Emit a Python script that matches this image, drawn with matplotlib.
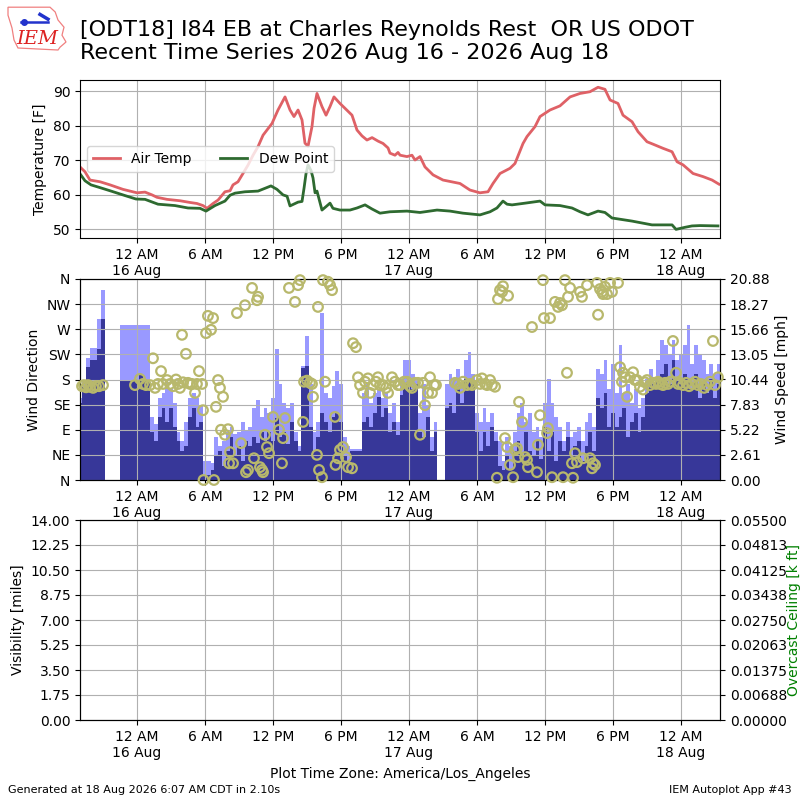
import numpy as np
import pandas as pd
import matplotlib
matplotlib.use('Agg')
import matplotlib.pyplot as plt
import matplotlib.dates as mdates
from matplotlib.ticker import FuncFormatter, FixedLocator
from matplotlib.patches import Polygon
from matplotlib.lines import Line2D

# hours relative to 2026-08-16 00:00 (America/Los_Angeles)
BASE = pd.Timestamp('2026-08-16 00:00')
T_START, T_END = -5.03, 51.44

# ---------------------------------------------------------------- temperature
temp_hours = [-5.03, -4.59, -4.15, -3.26, -2.38, -1.24, 0.0, 0.71, 1.32, 1.76,
              2.65, 3.79, 4.68, 5.29, 5.82, 6.18, 6.71, 7.15, 7.76, 8.21,
              8.47, 8.91, 9.35, 9.79, 10.24, 10.68, 11.12, 11.91, 12.44, 13.06,
              13.50, 13.85, 14.21, 14.56, 14.82, 15.09, 15.44, 15.62, 15.88, 16.32,
              16.68, 17.03, 17.38, 17.91, 18.35, 18.97, 19.41, 19.85, 20.29, 20.74,
              21.26, 21.71, 22.15, 22.32, 22.76, 23.03, 23.21, 23.82, 24.26, 24.53,
              24.97, 25.41, 26.12, 27.00, 28.50, 29.38, 30.26, 30.97, 31.41, 32.03,
              32.91, 33.35, 34.06, 34.41, 35.12, 35.56, 36.44, 37.32, 38.21, 39.09,
              39.97, 40.68, 41.29, 41.74, 42.44, 42.88, 43.68, 44.21, 45.00, 45.53,
              46.41, 47.21, 47.65, 48.18, 49.06, 49.94, 50.74, 51.35]
temp_vals = [68.0, 66.6, 64.2, 63.7, 62.8, 61.5, 60.5, 60.7, 59.9, 59.2,
             58.6, 58.2, 57.7, 57.4, 56.8, 56.0, 57.4, 58.4, 60.8, 61.1,
             62.8, 63.7, 66.1, 68.5, 71.4, 73.9, 77.2, 80.6, 84.5, 88.3,
             84.5, 82.6, 84.5, 81.6, 74.9, 74.0, 79.7, 85.0, 89.3, 85.5,
             83.0, 85.5, 88.3, 86.4, 85.0, 83.0, 78.7, 77.0, 75.8, 76.5,
             75.5, 74.8, 73.5, 72.0, 71.4, 72.2, 71.4, 71.0, 71.4, 70.0,
             71.0, 68.0, 65.7, 64.2, 63.2, 61.3, 60.5, 60.8, 63.2, 66.1,
             67.6, 69.0, 74.8, 76.8, 79.7, 82.6, 84.5, 85.7, 88.3, 89.3,
             89.8, 91.1, 90.5, 87.4, 86.4, 83.0, 81.1, 78.2, 75.3, 74.6,
             73.4, 72.4, 69.5, 68.6, 66.1, 65.2, 64.2, 63.0]

dew_hours = [-5.03, -4.59, -4.06, -3.26, -2.29, -1.06, -0.09, 0.71, 1.85, 3.35,
             4.50, 5.56, 6.09, 6.88, 7.76, 8.21, 8.65, 9.53, 10.68, 11.29,
             11.82, 12.35, 12.88, 13.24, 13.50, 14.21, 14.56, 14.74, 14.91, 15.09,
             15.35, 15.53, 15.71, 15.88, 16.32, 16.68, 17.03, 17.29, 17.91, 18.79,
             19.41, 20.12, 20.74, 21.44, 22.32, 23.82, 24.97, 26.47, 27.62, 28.76,
             30.26, 31.15, 31.76, 32.29, 32.65, 33.09, 34.24, 35.56, 36.00, 37.32,
             38.38, 39.09, 39.79, 40.68, 41.29, 41.91, 43.68, 45.44, 47.21, 47.56,
             48.35, 48.97, 49.68, 51.26]
dew_vals = [66.0, 64.0, 62.8, 62.0, 61.0, 59.7, 58.7, 58.6, 57.2, 56.8,
            56.1, 56.0, 55.2, 56.8, 58.1, 59.8, 60.4, 60.8, 61.0, 61.8,
            62.5, 61.5, 59.9, 59.5, 56.7, 57.8, 58.0, 61.9, 66.0, 68.6,
            67.0, 64.8, 60.5, 61.0, 55.5, 56.5, 57.5, 56.0, 55.5, 55.5,
            56.1, 57.0, 55.8, 54.6, 55.0, 55.2, 54.8, 55.5, 55.2, 54.6,
            54.1, 55.0, 56.1, 58.1, 57.2, 57.0, 57.5, 58.1, 57.0, 56.8,
            56.1, 55.0, 54.1, 55.2, 54.8, 53.2, 52.3, 51.2, 51.2, 49.9,
            50.5, 50.9, 51.0, 50.9]

# ---------------------------------------------------------------- wind (20 minute obs from -5 h)
WIND_FIRST_HOUR = -5.0
nan = np.nan
wind_speed = [8.0, 9.7, 11.7, 12.5, 12.5, 13.6, 16.7, nan, nan, nan, nan, 10.4,
              10.4, 10.4, 10.4, 10.4, 11.0, 10.4, 10.4, 5.0, 4.0, 6.5, 7.5, 6.0,
              7.5, 5.5, 4.0, 3.0, 3.5, 6.5, 7.5, 5.5, 6.0, 0.5, 0.5, 1.0,
              2.5, 3.0, 1.5, 3.0, 4.5, 2.5, 3.5, 2.0, 4.0, 3.5, 4.5, 3.8,
              5.0, 4.0, 5.0, 4.0, 6.4, 4.5, 5.0, 3.7, 6.0, 4.0, 3.0, 11.6,
              11.8, 5.5, 3.0, 4.5, 7.0, 6.0, 5.0, 6.5, 7.0, 6.0, 2.5, 2.0,
              3.0, 3.0, 3.0, 6.0, 6.5, 5.5, 7.0, 8.6, 6.5, 7.5, 5.0, 6.0,
              4.7, 8.8, 10.0, 10.0, 9.5, 10.0, 5.0, 4.5, 6.5, 3.0, 5.0, nan,
              nan, 7.5, 8.0, 7.0, 9.5, 8.0, 10.5, 10.5, 10.0, 5.0, 3.0, 5.0,
              3.5, 5.5, 4.0, 1.5, 1.0, 2.5, 1.0, 3.0, 4.0, 2.5, 5.0, 3.0,
              2.5, 4.0, 2.2, 5.5, 3.0, 5.0, 2.0, 4.0, 3.0, 4.5, 2.5, 3.5,
              4.0, 2.0, 3.5, 5.0, 3.0, 8.5, 7.5, 9.0, 5.5, 7.0, 5.5, 6.5,
              7.5, 4.5, 6.0, 7.0, 5.0, 6.5, 9.0, 10.0, 9.5, 10.5, 11.0, 12.0,
              10.0, 12.5, 10.5, 10.0, 11.0, 10.5, 9.5, 11.0, 8.5, 10.0, 9.0, 10.5,
              8.5, 10.0, 9.0]
wind_gust = [8.5, 10.4, 12.7, 13.7, 13.7, 16.7, 19.7, nan, nan, nan, nan, 16.1,
             16.1, 16.1, 16.1, 16.1, 16.1, 16.1, 16.1, 6.5, 5.8, 8.5, 9.0, 10.2,
             9.5, 8.0, 5.0, 4.0, 6.0, 8.5, 9.0, 8.5, 7.8, 2.0, 2.0, 1.8,
             4.5, 3.5, 4.0, 5.0, 5.5, 4.8, 5.0, 6.0, 5.2, 5.5, 7.5, 8.3,
             6.5, 7.5, 7.0, 8.5, 13.6, 10.0, 8.0, 7.5, 8.0, 5.0, 3.5, 11.8,
             15.0, 10.0, 5.0, 6.0, 17.3, 9.0, 8.5, 9.8, 11.3, 10.0, 4.5, 3.5,
             3.2, 3.2, 3.2, 9.0, 10.0, 8.0, 9.0, 9.5, 8.5, 9.0, 7.0, 8.0,
             6.0, 10.5, 12.5, 12.5, 11.0, 10.5, 7.0, 10.0, 7.8, 4.5, 6.0, nan,
             nan, 10.0, 11.0, 10.5, 11.5, 10.0, 12.5, 13.3, 11.0, 7.0, 6.0, 7.5,
             6.0, 7.0, 5.0, 4.0, 2.0, 4.5, 3.5, 5.0, 7.0, 8.0, 6.0, 7.0,
             5.0, 5.5, 4.5, 8.0, 10.5, 8.0, 6.5, 5.5, 4.0, 6.0, 4.5, 5.0,
             5.5, 4.0, 6.0, 7.0, 5.5, 11.5, 11.0, 12.5, 9.5, 12.0, 9.0, 14.0,
             9.0, 10.0, 8.0, 9.5, 7.5, 8.5, 10.5, 11.5, 10.0, 12.5, 14.5, 14.0,
             13.0, 14.5, 12.5, 13.0, 14.0, 16.1, 12.0, 14.0, 13.0, 12.5, 11.0, 12.0,
             11.0, 12.0, 11.0]

drct_hours = [-4.85, -4.68, -4.50, -4.32, -4.15, -3.88, -3.62, -3.35, -3.00,
              -0.18, 0.26, 0.53, 0.79, 1.15, 1.41, 1.59, 1.85, 2.12, 2.29, 2.65,
              2.91, 3.18, 3.44, 3.62, 3.79, 3.97, 4.06, 4.32, 4.50, 4.68, 4.85,
              5.12, 5.29, 5.47, 5.74, 5.82, 5.87, 6.09, 6.26, 6.53, 6.71, 6.79,
              6.97, 7.15, 7.32, 7.41, 7.59, 7.76, 8.03, 8.12, 8.21, 8.47, 8.82,
              9.18, 9.53, 9.62, 9.79, 10.15, 10.32, 10.59, 10.68, 10.85, 11.03,
              11.12, 11.29, 11.47, 11.65, 12.00, 12.53, 12.79, 12.88, 13.06, 13.41,
              13.94, 14.21, 14.38, 14.65, 14.74, 15.00, 15.26, 15.44, 15.53, 15.88,
              15.97, 16.06, 16.32, 16.41, 16.59, 16.85, 17.03, 17.21, 17.47, 17.52,
              17.74, 17.91, 18.18, 18.44, 18.62, 18.97, 19.06, 19.32, 19.50, 19.68,
              19.94, 20.12, 20.38, 20.56, 20.82, 21.09, 21.26, 21.44, 21.71, 21.97,
              22.15, 22.50, 22.76, 23.03, 23.21, 23.56, 23.82, 24.09, 24.26, 24.53,
              24.79, 24.97, 25.24, 25.41, 25.68, 25.85, 26.03, 26.21, 26.38, 28.06,
              28.32, 28.50, 28.76, 29.12, 29.38, 29.56, 30.00, 30.26, 30.44, 30.71,
              30.88, 31.15, 31.32, 31.59, 31.76, 31.85, 32.03, 32.21, 32.29, 32.47,
              32.65, 32.74, 32.91, 33.18, 33.35, 33.53, 33.62, 33.71, 33.97, 34.24,
              34.41, 34.50, 34.85, 35.29, 35.38, 35.56, 35.82, 35.91, 36.18, 36.26,
              36.44, 36.62, 36.88, 37.15, 37.32, 37.50, 37.59, 37.76, 37.94, 38.03,
              38.21, 38.38, 38.47, 38.65, 38.82, 39.09, 39.26, 39.35, 39.71, 39.97,
              40.15, 40.24, 40.41, 40.59, 40.68, 40.85, 41.03, 41.12, 41.29, 41.47,
              41.74, 41.91, 42.44, 42.62, 42.79, 42.88, 43.06, 43.24, 43.50, 43.77,
              43.94, 44.12, 44.38, 44.65, 44.82, 45.00, 45.26, 45.53, 45.79, 45.97,
              46.15, 46.41, 46.59, 46.85, 47.03, 47.29, 47.56, 47.74, 47.91, 48.18,
              48.44, 48.71, 48.97, 49.24, 49.50, 49.76, 50.03, 50.29, 50.56, 50.82,
              51.00, 51.26]
drct_vals = [168, 170, 166, 170, 167, 165, 168, 168, 170,
             170, 181, 172, 170, 170, 218, 165, 172, 195, 172, 179,
             172, 168, 180, 172, 165, 260, 175, 226, 174, 172, 172,
             156, 172, 195, 172, 125, 0, 263, 294, 269, 290, 0,
             131, 179, 165, 90, 149, 81, 91, 30, 50, 30, 299,
             66, 313, 14, 18, 344, 39, 322, 328, 23, 18,
             14, 81, 59, 48, 113, 90, 30, 75, 111, 344,
             319, 349, 358, 104, 176, 178, 174, 172, 149, 45,
             310, 18, 5, 358, 176, 355, 349, 340, 113, 27,
             39, 54, 59, 41, 23, 21, 245, 238, 184, 170,
             156, 176, 182, 156, 170, 176, 184, 170, 170, 165,
             156, 184, 176, 170, 170, 176, 176, 168, 165, 174,
             174, 81, 174, 134, 156, 184, 156, 170, 170, 174,
             172, 165, 176, 170, 172, 170, 179, 172, 182, 172,
             170, 179, 170, 167, 4, 324, 340, 337, 347, 75,
             59, 330, 27, 5, 54, 57, 41, 140, 104, 41,
             36, 23, 274, 14, 63, 116, 358, 290, 84, 93,
             290, 5, 319, 310, 317, 313, 5, 358, 192, 328,
             344, 30, 4, 48, 32, 337, 328, 39, 349, 39,
             21, 30, 27, 353, 296, 342, 337, 333, 346, 333,
             353, 337, 353, 202, 176, 192, 184, 149, 184, 193,
             179, 179, 167, 162, 175, 179, 170, 174, 172, 176,
             172, 170, 174, 172, 176, 249, 192, 172, 174, 170,
             174, 168, 172, 176, 170, 172, 165, 170, 176, 249,
             170, 184]

dir_labels = ['N', 'NE', 'E', 'SE', 'S', 'SW', 'W', 'NW', 'N']
SPEED_MAX = 20.88
VIS_MAX = 14.0
CEIL_MAX = 0.055


def to_time(hours):
    return BASE + pd.to_timedelta(np.asarray(hours, dtype=float), unit='h')


def fmt_time(x, pos=None):
    dt = mdates.num2date(x)
    if dt.hour == 0:
        return dt.strftime('12 AM\n%d %b')
    return dt.strftime('%-I %p')


def setup_time_axis(ax):
    ax.xaxis.set_major_locator(mdates.HourLocator(byhour=[0, 6, 12, 18]))
    ax.xaxis.set_major_formatter(FuncFormatter(fmt_time))
    ax.set_xlim(to_time([T_START])[0], to_time([T_END])[0])
    ax.grid(True)


fig = plt.figure(figsize=(8, 8), dpi=100)

# ---- top: temperature
ax1 = fig.add_axes([0.1, 0.7025, 0.8, 0.1975])
ax1.plot(to_time(temp_hours), temp_vals, color='#df6166', lw=2, label='Air Temp')
ax1.plot(to_time(dew_hours), dew_vals, color='#2e6a30', lw=2, label='Dew Point')
ax1.set_ylim(47.4, 93.2)
ax1.set_yticks([50, 60, 70, 80, 90])
ax1.set_ylabel('Temperature [F]')
setup_time_axis(ax1)
ax1.legend(loc='center left', ncol=2, fontsize=10)

# ---- middle: wind
ax2 = fig.add_axes([0.1, 0.4, 0.8, 0.25125])
ax2b = ax2.twinx()
wtimes = to_time(WIND_FIRST_HOUR + np.arange(len(wind_speed)) / 3.0)
ax2b.bar(wtimes, wind_gust, width=1 / 72., color='#9999ff')
ax2b.bar(wtimes, wind_speed, width=1 / 72., color='#373799')
ax2b.set_ylim(0, SPEED_MAX)
ax2b.yaxis.set_major_locator(FixedLocator(np.linspace(0, SPEED_MAX, 9)))
ax2b.yaxis.set_major_formatter(FuncFormatter(lambda v, p: f'{v:.2f}'))
ax2b.set_ylabel('Wind Speed [mph]')
ax2.set_zorder(ax2b.get_zorder() + 1)
ax2.patch.set_visible(False)
ax2.scatter(to_time(drct_hours), drct_vals, s=48, facecolors='none',
            edgecolors='#b8b86c', linewidths=1.6, zorder=3, clip_on=False)
ax2.set_ylim(0, 360)
ax2.set_yticks(np.arange(0, 361, 45))
ax2.set_yticklabels(dir_labels)
ax2.set_ylabel('Wind Direction')
setup_time_axis(ax2)

# ---- bottom: visibility / ceiling (no data)
ax3 = fig.add_axes([0.1, 0.1, 0.8, 0.25])
ax3.set_ylim(0, VIS_MAX)
ax3.set_yticks(np.linspace(0, VIS_MAX, 9))
ax3.yaxis.set_major_formatter(FuncFormatter(lambda v, p: f'{v:.2f}'))
ax3.set_ylabel('Visibility [miles]')
setup_time_axis(ax3)
ax3b = ax3.twinx()
ax3b.set_ylim(0, CEIL_MAX)
ax3b.set_yticks(np.linspace(0, CEIL_MAX, 9))
ax3b.yaxis.set_major_formatter(FuncFormatter(lambda v, p: f'{v:.5f}'))
ax3b.set_ylabel('Overcast Ceiling [k ft]', color='g', labelpad=0)

# ---- titles / footer
fig.text(0.1, 0.975, '[ODT18] I84 EB at Charles Reynolds Rest  OR US ODOT\n'
         'Recent Time Series 2026 Aug 16 - 2026 Aug 18',
         fontsize=16, va='top', ha='left')
fig.text(0.5, 0.0325, 'Plot Time Zone: America/Los_Angeles', ha='center', va='center')
fig.text(0.01, 0.0125, 'Generated at 18 Aug 2026 6:07 AM CDT in 2.10s',
         fontsize=8, va='center')
fig.text(0.99, 0.0125, 'IEM Autoplot App #43', fontsize=8, ha='right', va='center')

# IEM logo (state outline, station symbol, text)
outline = [[0.010, 0.991], [0.0625, 0.991], [0.069, 0.985], [0.0725, 0.975],
           [0.080, 0.966], [0.0775, 0.956], [0.0825, 0.9475], [0.075, 0.941],
           [0.0725, 0.9375], [0.0225, 0.940], [0.0175, 0.950], [0.015, 0.965],
           [0.010, 0.981]]
fig.add_artist(Polygon(outline, closed=True, fill=False, edgecolor='#f08080',
                       lw=0.9, transform=fig.transFigure))
fig.add_artist(Line2D([0.026, 0.06], [0.9725, 0.9725], color='#2233cc', lw=1.8,
                      transform=fig.transFigure))
fig.add_artist(Line2D([0.03], [0.9725], color='#2233cc', marker='o', ms=4,
                      transform=fig.transFigure))
fig.add_artist(Line2D([0.05, 0.06], [0.982, 0.976], color='#2233cc', lw=2.5,
                      transform=fig.transFigure))
fig.text(0.046, 0.951, 'IEM', color='#dd2222', fontsize=14, style='italic',
         family='serif', ha='center', va='center')

fig.savefig('out.png', dpi=100)
